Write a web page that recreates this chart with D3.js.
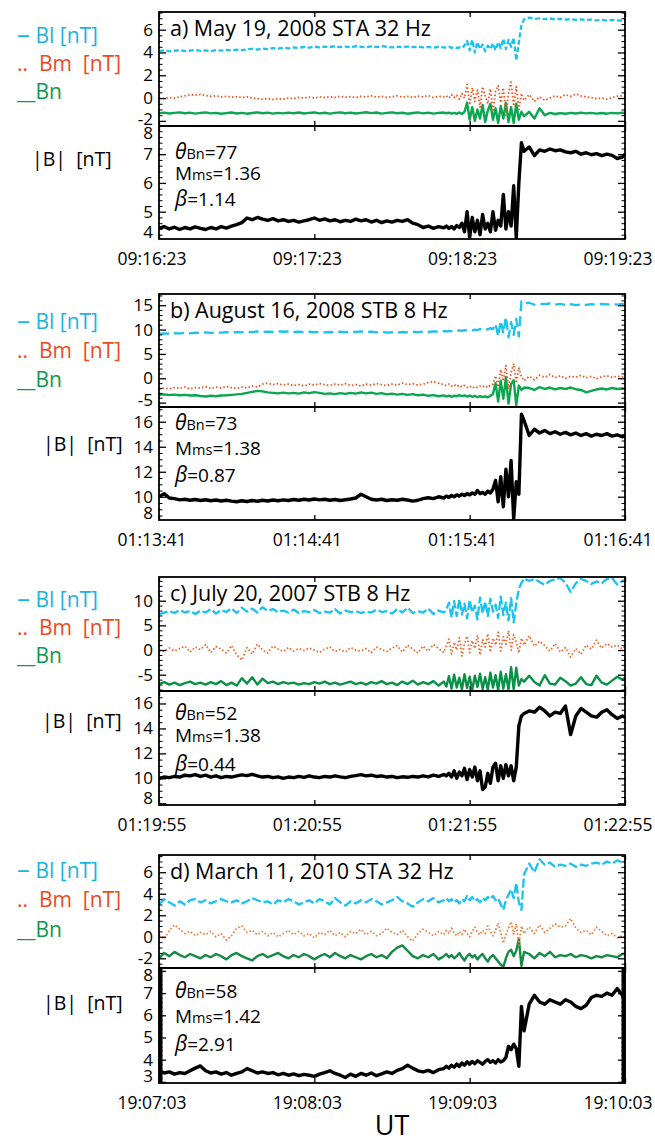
<!DOCTYPE html>
<html>
<head>
<meta charset="utf-8">
<script src="https://d3js.org/d3.v7.min.js"></script>
<style>
  body { margin: 0; background: #fff; }
  text { font-family: "Open Sans", sans-serif; }
</style>
</head>
<body>
<div id="chart"></div>
<script>

// seconds after the first time tick (same sampling for all four events)
var times = [0,2,4,6,8,10,12,14,16,18,20,22,24,26,28,30,32,34,36,38,40,42,44,46,48,50,52,54,56,58,
  60,62,64,66,68,70,72,74,76,78,80,82,84,86,88,90,92,94,96,98,100,102,104,106,108,110,
  111,112,113,114,115,116,117,118,119,120,121,122,123,124,125,126,127,128,129,130,
  131,132,133,134,135,136,137,138,139,140,141,
  143,145,147,149,151,153,155,157,159,161,163,165,167,169,171,173,175,177,179,180];

// a) May 19, 2008
var blA = [4.12,4.18,4.10,4.15,4.20,4.12,4.16,4.22,4.14,4.18,4.12,4.20,4.16,4.22,4.18,4.25,4.20,4.28,4.32,4.26,
  4.35,4.30,4.38,4.34,4.42,4.36,4.44,4.40,4.48,4.42,4.50,4.45,4.52,4.48,4.55,4.47,4.52,4.45,4.55,4.50,
  4.46,4.53,4.48,4.55,4.50,4.44,4.50,4.46,4.52,4.47,4.50,4.44,4.48,4.42,4.50,4.45,
  4.42,4.50,4.40,4.48,4.38,4.45,4.40,4.60,5.00,4.20,5.10,4.00,4.90,4.30,4.70,4.10,4.60,4.30,4.80,4.20,
  4.90,4.40,5.20,4.30,5.10,4.50,5.30,3.30,4.90,6.40,6.90,
  7.05,6.95,7.00,6.92,6.98,6.90,6.95,6.88,6.92,6.85,6.90,6.85,6.88,6.82,6.86,6.80,6.85,6.82,6.78,6.80];
var bmA = [0.00,-0.05,0.05,0.00,0.10,0.20,0.30,0.25,0.32,0.22,0.15,0.20,0.10,0.15,0.08,0.12,0.05,0.10,0.00,-0.05,
  -0.10,-0.05,-0.12,-0.06,-0.10,0.00,-0.05,0.05,0.00,0.08,0.02,0.10,0.05,0.12,0.06,0.15,0.08,0.12,0.05,0.15,
  0.10,0.20,0.08,0.15,0.05,0.12,0.20,0.08,0.15,0.05,0.18,0.10,0.22,0.05,0.15,0.10,
  0.20,0.00,0.30,0.05,0.25,-0.10,0.40,0.00,1.20,-0.60,0.90,-0.30,0.70,-0.80,1.00,0.20,-0.50,0.80,-1.20,0.60,
  1.10,-0.40,0.90,-1.50,0.50,1.40,-0.70,1.00,-1.00,0.40,-0.20,
  0.30,-0.30,0.10,-0.20,0.00,0.20,0.05,0.30,0.15,0.35,0.20,0.10,0.05,-0.05,0.00,-0.10,0.05,0.15,0.20,0.12];
var bnA = [-1.32,-1.28,-1.35,-1.30,-1.25,-1.33,-1.28,-1.36,-1.30,-1.26,-1.34,-1.30,-1.38,-1.32,-1.27,-1.35,-1.30,-1.37,-1.31,-1.25,
  -1.33,-1.28,-1.36,-1.30,-1.34,-1.28,-1.33,-1.27,-1.35,-1.30,-1.26,-1.34,-1.29,-1.36,-1.30,-1.25,-1.33,-1.28,-1.35,-1.30,
  -1.24,-1.32,-1.27,-1.36,-1.30,-1.25,-1.33,-1.29,-1.37,-1.31,-1.26,-1.34,-1.28,-1.36,-1.30,-1.27,
  -1.33,-1.28,-1.36,-1.30,-1.38,-1.26,-1.40,-1.20,-0.40,-1.90,-0.80,-2.00,-1.00,-1.80,-0.60,-2.10,-1.10,-0.50,-1.90,-0.90,
  -2.20,-0.70,-1.80,-0.40,-2.10,-0.80,-2.20,-0.50,-1.90,-1.20,-1.60,
  -1.20,-1.80,-0.90,-1.50,-1.30,-1.40,-1.32,-1.38,-1.30,-1.35,-1.28,-1.34,-1.30,-1.36,-1.31,-1.37,-1.30,-1.34,-1.28,-1.30];
var babsA = [4.42,4.48,4.40,4.46,4.38,4.45,4.40,4.47,4.42,4.38,4.45,4.40,4.48,4.43,4.50,4.55,4.62,4.78,4.72,4.80,
  4.74,4.70,4.76,4.68,4.72,4.66,4.70,4.64,4.68,4.72,4.78,4.70,4.75,4.68,4.72,4.65,4.70,4.66,4.74,4.68,
  4.72,4.64,4.70,4.62,4.68,4.64,4.70,4.66,4.72,4.60,4.55,4.45,4.50,4.42,4.48,4.44,
  4.50,4.42,4.48,4.40,4.52,4.45,4.60,4.30,5.00,4.10,4.80,4.30,4.70,4.20,4.90,4.40,4.60,4.30,5.00,4.35,
  4.70,4.50,5.60,4.40,5.00,4.50,5.90,4.10,6.00,7.40,7.10,
  7.25,6.95,7.15,7.10,7.18,7.12,7.15,7.08,7.05,7.10,7.00,7.05,6.98,7.02,6.95,7.00,6.96,6.85,6.90,7.00];

// b) August 16, 2008
var blB = [9.10,9.20,9.15,9.25,9.20,9.30,9.22,9.35,9.28,9.40,9.30,9.42,9.35,9.45,9.38,9.50,9.42,9.55,9.48,9.60,
  9.50,9.58,9.52,9.62,9.55,9.60,9.50,9.58,9.48,9.55,9.45,9.52,9.40,9.50,9.42,9.55,9.45,9.60,9.50,9.62,
  9.48,9.55,9.40,9.50,9.38,9.45,9.35,9.50,9.42,9.55,9.45,9.60,9.50,9.62,9.55,9.70,
  9.60,9.75,9.65,9.80,9.70,9.85,9.75,9.90,9.80,9.95,9.85,10.0,9.90,10.1,9.95,10.2,10.0,10.3,10.1,11.2,
  8.60,11.8,9.20,12.6,8.40,11.5,8.90,12.2,8.60,15.8,15.4,
  15.5,15.1,15.3,15.2,15.35,15.1,15.25,15.05,15.2,15.0,15.15,15.05,15.2,15.1,15.25,15.15,15.2,15.1,15.25,15.2];
var bmB = [-2.3,-2.0,-2.2,-1.9,-2.1,-1.8,-2.2,-1.9,-2.0,-1.7,-2.1,-1.8,-2.0,-1.7,-1.9,-2.1,-1.8,-2.0,-1.6,-1.8,
  -1.2,-1.0,-1.3,-1.1,-1.4,-1.2,-1.5,-1.3,-1.6,-1.2,-1.4,-1.1,-1.3,-1.5,-1.2,-1.4,-1.1,-1.5,-1.3,-1.6,
  -1.2,-1.4,-1.1,-1.3,-1.5,-1.2,-1.4,-1.0,-1.3,-1.1,-1.4,-1.2,-0.9,-0.7,-1.0,-1.3,
  -1.5,-1.2,-1.6,-1.3,-1.7,-1.4,-1.8,-1.5,-1.9,-1.6,-2.0,-1.7,-1.9,-1.6,-1.8,-1.5,-1.9,-1.4,-1.2,0.5,
  -1.8,1.8,-0.6,2.6,-2.2,1.2,3.0,-1.0,2.2,0.3,-0.5,
  0.4,-0.3,0.6,0.2,0.8,0.1,0.5,0.0,0.4,0.2,0.6,0.1,0.4,-0.1,0.3,0.5,0.2,0.4,0.3,0.3];
var bnB = [-3.40,-3.30,-3.45,-3.35,-3.50,-3.40,-3.55,-3.50,-3.65,-3.75,-3.60,-3.70,-3.55,-3.50,-3.40,-3.30,-3.20,-3.00,-2.80,-2.60,
  -2.70,-2.90,-3.00,-3.10,-2.95,-3.10,-3.00,-3.15,-2.90,-3.05,-2.85,-3.00,-3.20,-3.10,-3.25,-3.05,-3.20,-3.00,-3.15,-2.90,
  -3.10,-2.95,-3.20,-3.05,-3.30,-3.15,-3.35,-3.20,-3.40,-3.25,-3.50,-3.35,-3.60,-3.45,-3.70,-3.50,
  -3.75,-3.55,-3.80,-3.60,-3.70,-3.45,-3.65,-3.50,-3.75,-3.55,-3.80,-3.60,-3.90,-3.65,-3.85,-3.70,-3.90,-3.60,-3.20,-1.00,
  -4.80,-0.50,-4.20,0.20,-5.20,-1.20,-0.40,-5.50,-1.50,-2.40,-1.90,
  -2.0,-2.4,-1.8,-2.2,-1.9,-2.3,-2.0,-2.2,-1.9,-2.25,-2.4,-2.9,-2.6,-2.3,-2.1,-2.3,-2.0,-2.2,-2.1,-2.2];
var babsB = [10.0,10.25,9.90,9.85,9.75,9.80,9.72,9.78,9.70,9.76,9.68,9.74,9.66,9.72,9.65,9.60,9.68,9.62,9.70,9.64,
  9.72,9.66,9.74,9.68,9.75,9.70,9.78,9.72,9.80,9.74,9.82,9.75,9.80,9.72,9.78,9.70,9.76,9.82,9.90,10.2,
  10.0,9.80,9.74,9.80,9.70,9.76,9.72,9.80,9.74,9.65,9.72,9.85,9.92,9.85,10.0,9.90,
  10.05,9.95,10.1,10.0,10.15,10.05,10.2,10.1,10.25,10.15,10.3,10.2,10.5,10.25,10.35,10.2,10.45,10.3,10.6,11.3,
  9.60,11.6,9.20,12.2,10.0,12.9,8.20,11.2,10.2,16.6,16.1,
  14.9,15.4,15.1,15.3,15.05,15.2,15.0,15.15,14.95,15.1,14.9,15.05,14.85,15.0,14.9,15.05,14.85,14.95,14.8,14.9];

// c) July 20, 2007
var blC = [7.2,7.6,7.9,7.5,8.1,7.6,7.9,7.3,8.0,7.6,8.3,7.4,8.1,7.7,8.5,7.5,8.6,7.8,8.4,7.6,
  8.7,7.9,8.3,7.7,8.0,7.6,8.2,7.5,7.9,7.7,8.1,7.5,7.8,7.6,8.3,7.4,8.0,7.7,7.9,7.5,
  7.8,7.6,8.2,7.7,7.9,7.4,8.3,7.6,8.6,7.5,7.9,7.6,8.4,7.3,8.0,7.6,
  8.2,9.6,6.6,9.9,6.9,10.3,7.2,9.4,6.4,10.1,7.6,9.0,6.2,10.6,7.4,9.8,6.9,10.4,7.8,9.2,
  6.5,10.8,7.1,9.6,6.0,10.5,5.6,9.5,12.4,13.6,14.5,
  14.0,14.4,13.8,13.2,14.0,14.3,14.6,13.6,11.8,13.5,14.4,14.0,13.4,13.9,13.5,14.4,14.6,13.3,14.0,14.2];
var bmC = [0.0,-0.3,0.4,-0.2,0.3,0.8,-0.4,0.6,0.1,1.1,-0.5,0.7,0.2,-0.6,0.9,-1.0,-2.0,0.5,-0.8,1.2,
  0.0,-0.6,0.8,0.2,-0.3,0.5,-0.2,0.3,-0.1,0.4,0.0,-0.5,0.2,0.6,-0.3,0.1,-0.4,0.5,0.0,-0.2,
  0.3,-0.5,0.6,0.1,-0.3,0.4,0.9,-0.4,1.0,0.2,-0.6,0.8,-0.2,1.1,0.3,-0.5,
  0.9,2.2,-0.8,1.6,0.0,2.5,-1.2,1.2,2.8,-0.5,1.9,0.3,3.0,-1.0,2.1,0.6,3.3,-0.4,2.4,1.0,
  3.6,-0.2,2.7,1.2,3.9,0.0,3.1,1.5,-0.6,2.4,1.0,
  2.9,0.8,1.8,0.9,-0.2,1.3,-0.4,0.5,-1.4,0.3,-0.8,1.0,0.2,2.0,0.4,1.3,0.6,1.0,0.2,0.8];
var bnC = [-6.9,-6.5,-7.0,-6.6,-7.1,-6.7,-6.4,-6.9,-6.6,-7.0,-6.5,-6.9,-6.3,-7.1,-6.6,-7.2,-5.7,-6.8,-5.5,-7.0,
  -5.8,-6.7,-6.4,-6.9,-6.5,-6.8,-6.6,-7.0,-6.7,-6.9,-6.5,-6.8,-6.4,-6.9,-6.6,-7.0,-6.7,-6.4,-6.9,-6.6,
  -7.0,-6.5,-6.8,-6.3,-6.9,-6.6,-7.1,-6.4,-6.9,-6.2,-7.0,-6.5,-6.9,-6.3,-7.2,-6.4,
  -7.4,-5.3,-7.8,-5.0,-7.6,-5.6,-8.0,-4.9,-7.7,-5.4,-8.1,-5.2,-7.5,-4.8,-7.9,-5.5,-8.0,-4.6,-7.6,-5.1,
  -8.1,-4.4,-7.8,-4.9,-8.0,-3.5,-7.9,-3.6,-7.2,-5.9,-6.4,
  -5.2,-6.5,-7.2,-5.1,-6.8,-7.0,-5.6,-6.3,-7.2,-6.8,-5.5,-6.9,-7.1,-5.2,-6.6,-7.0,-6.2,-5.4,-6.0,-5.6];
var babsC = [10.0,10.1,10.05,10.15,10.1,10.25,10.2,10.3,10.15,10.25,10.1,10.2,10.05,10.15,10.1,10.2,10.28,10.22,10.32,10.2,
  10.1,10.15,10.05,10.12,10.0,10.1,10.05,10.15,10.08,10.2,10.1,10.05,10.15,10.1,10.2,10.12,10.05,10.15,10.22,10.3,
  10.2,10.25,10.15,10.2,10.1,10.15,10.05,10.12,10.08,10.15,10.1,10.2,10.12,10.25,10.15,10.3,
  10.2,10.4,10.1,10.6,10.0,10.5,10.2,10.8,9.9,10.7,10.1,10.9,9.8,10.6,9.1,9.3,10.4,9.6,10.9,11.2,
  9.8,11.0,10.0,11.1,10.2,11.0,9.8,10.9,14.2,15.0,15.2,
  15.4,15.3,15.7,15.4,15.0,15.3,15.2,15.8,13.5,15.0,15.6,15.3,15.0,14.9,15.3,15.5,15.1,14.8,15.0,14.9];

// d) March 11, 2010
var blD = [3.0,3.5,3.2,2.9,3.3,3.0,3.4,3.5,3.2,3.4,3.1,3.3,3.5,3.3,3.2,3.4,3.1,3.3,3.6,3.4,
  3.2,3.3,3.0,3.4,3.2,3.5,3.3,3.0,3.2,3.4,3.1,3.5,3.3,3.0,3.6,3.2,2.9,3.3,3.1,3.4,
  3.2,3.5,3.3,3.0,3.2,3.4,3.7,3.3,3.1,2.8,3.2,3.5,3.3,3.6,3.2,3.4,
  3.6,3.3,3.5,3.2,3.4,3.1,3.5,3.3,3.8,3.4,3.7,3.3,3.5,3.2,3.6,3.4,3.7,3.5,3.8,3.4,
  3.6,3.0,2.5,3.4,3.9,4.4,3.6,5.0,3.2,2.5,5.8,
  6.8,6.0,7.2,6.7,6.9,6.5,6.7,6.6,6.8,6.5,6.7,6.6,6.8,6.9,6.7,7.0,6.8,7.1,6.9,7.0];
var bmD = [0.2,-0.2,0.6,1.1,0.7,0.3,0.5,0.1,0.4,0.2,0.5,0.0,0.3,-0.3,0.1,0.8,1.0,0.4,0.6,0.2,
  0.5,0.1,0.4,0.0,0.3,0.6,0.2,0.5,0.1,0.3,-0.1,0.4,0.2,0.6,0.1,0.4,0.0,0.5,0.3,0.7,
  0.2,0.5,0.1,0.3,0.8,0.4,0.2,0.6,0.0,-0.4,0.3,0.7,0.4,0.1,0.5,0.2,
  0.6,0.3,0.8,0.4,0.1,0.5,0.2,0.7,0.3,0.0,0.5,0.9,0.4,0.2,0.6,0.3,1.0,0.5,0.1,0.6,
  1.3,0.4,-0.6,0.2,0.8,1.4,0.2,1.2,-0.8,1.0,0.3,
  0.9,0.3,1.1,0.4,0.8,1.2,0.9,1.0,1.7,0.8,0.4,0.6,0.2,0.9,0.5,0.1,0.3,-0.1,0.1,0.0];
var bnD = [-2.0,-1.5,-1.8,-1.4,-1.7,-1.9,-1.6,-1.8,-2.0,-1.7,-1.9,-1.6,-1.8,-2.1,-1.7,-1.5,-1.8,-2.0,-2.2,-1.8,
  -1.6,-1.9,-1.7,-1.5,-1.8,-2.0,-1.7,-1.9,-1.6,-1.8,-2.1,-1.8,-1.6,-1.9,-1.5,-1.8,-2.0,-1.7,-1.9,-2.1,
  -1.8,-1.6,-1.9,-1.7,-2.0,-1.4,-1.0,-0.8,-1.3,-1.8,-2.0,-1.7,-1.9,-1.6,-2.1,-1.8,
  -1.6,-1.9,-1.7,-2.0,-1.8,-1.5,-1.9,-2.2,-1.8,-1.6,-1.9,-1.7,-2.1,-1.8,-1.6,-2.0,-2.3,-1.9,-1.7,-2.0,
  -2.3,-2.6,-2.8,-2.0,-1.4,-1.2,-1.8,-1.3,-0.2,-2.7,-1.4,
  -1.6,-2.0,-1.5,-1.8,-1.4,-1.9,-1.7,-1.8,-1.6,-1.9,-1.7,-1.8,-2.0,-1.8,-1.9,-1.7,-1.8,-1.9,-1.6,-1.6];
var babsD = [3.50,3.40,3.45,3.35,3.42,3.38,3.50,3.62,3.72,3.50,3.40,3.45,3.35,3.42,3.30,3.38,3.45,3.60,3.50,3.40,
  3.45,3.38,3.42,3.32,3.38,3.30,3.36,3.28,3.34,3.30,3.25,3.35,3.42,3.50,3.38,3.30,3.20,3.35,3.25,3.38,
  3.30,3.40,3.28,3.36,3.45,3.38,3.52,3.60,3.75,3.62,3.50,3.45,3.52,3.42,3.55,3.60,
  3.70,3.62,3.75,3.66,3.80,3.70,3.85,3.75,3.90,3.80,3.92,3.82,3.95,3.88,3.80,3.92,4.00,3.88,3.95,3.85,
  4.00,3.90,3.95,4.10,4.60,4.45,4.70,4.50,3.70,6.40,5.30,
  6.5,6.9,6.6,6.5,6.7,6.6,6.5,6.7,6.6,6.4,6.3,6.45,6.8,6.9,6.85,7.0,6.9,7.2,6.9,6.6];

var titles = ["a) May 19, 2008 STA 32 Hz", "b) August 16, 2008 STB 8 Hz",
              "c) July 20, 2007 STB 8 Hz", "d) March 11, 2010 STA 32 Hz"];
var timeTicks = [0, 60, 120, 180];
var timeLabels = [["09:16:23","09:17:23","09:18:23","09:19:23"],
                  ["01:13:41","01:14:41","01:15:41","01:16:41"],
                  ["01:19:55","01:20:55","01:21:55","01:22:55"],
                  ["19:07:03","19:08:03","19:09:03","19:10:03"]];
var thetaBn = ["77", "73", "52", "58"];
var machMs = ["1.36", "1.38", "1.38", "1.42"];
var betaVals = ["1.14", "0.87", "0.44", "2.91"];
var topTicks = [[-2,0,2,4,6], [-5,0,5,10,15], [-5,0,5,10], [-2,0,2,4,6]];
var botTicks = [[4,5,6,7,8], [8,10,12,14,16], [8,10,12,14,16], [3,4,5,6,7,8]];

var series = [[blA,bmA,bnA,babsA], [blB,bmB,bnB,babsB], [blC,bmC,bnC,babsC], [blD,bmD,bnD,babsD]];

// layout of the four events (pixel positions and axis ranges)
var layout = [
  {top:12,  mid:126, bot:239,  tDom:[-2.45,7.55], bDom:[4.05,7.98], tMin:0.5, bMin:0.2, leg:[43,71,99,166],    bx:32, ann:[159,180,206], dash:"5,2.5"},
  {top:294, mid:407, bot:520,  tDom:[-5.9,17.3],  bDom:[8.14,17.18], tMin:1,  bMin:0.5, leg:[329,358,387,451], bx:43, ann:[430,455,482], dash:"10,5"},
  {top:577, mid:691, bot:805,  tDom:[-8.3,14.8],  bDom:[7.86,17.0], tMin:1,   bMin:0.5, leg:[607,635,663,728], bx:42, ann:[720,742,771], dash:"9,3"},
  {top:855, mid:968, bot:1083, tDom:[-2.9,7.6],   bDom:[2.95,8.13], tMin:0.5, bMin:0.2, leg:[878,907,937,1010], bx:43, ann:[998,1023,1051], dash:"9,3"}
];
var lineColors = [
  ["#19c2ef", "#f4541f", "#0aa650"],
  ["#19c2ef", "#f4541f", "#0aa650"],
  ["#19c2ef", "#f2662a", "#0a9148"],
  ["#19c2ef", "#f27a35", "#148a45"]
];

var W = 655, H = 1142;
var X0 = 159, X1 = 625;

var svg = d3.select("#chart").append("svg")
    .attr("width", W)
    .attr("height", H);

var x = d3.scaleLinear().domain([0, 180]).range([X0, X1]);

function trace(g, vals, y, clip, color, w, dash) {
  g.append("path")
    .datum(vals)
    .attr("clip-path", "url(#" + clip + ")")
    .attr("fill", "none")
    .attr("stroke", color)
    .attr("stroke-width", w)
    .attr("stroke-dasharray", dash)
    .attr("stroke-linejoin", "round")
    .attr("d", d3.line()
      .x(function(d, k) { return x(times[k]); })
      .y(function(d) { return y(d); }));
}

function yAxes(g, y, ticks, minorStep, top, bottom) {
  var dom = y.domain();
  var minor = d3.range(Math.ceil(dom[0] / minorStep) * minorStep, dom[1], minorStep)
    .filter(function(v) { return ticks.every(function(t) { return Math.abs(t - v) > 1e-6; }); });

  var left = g.append("g")
    .attr("transform", "translate(" + X0 + ",0)")
    .call(d3.axisLeft(y).tickValues(ticks).tickSize(-7).tickPadding(6)
      .tickFormat(function(d) { return String(d); }));
  left.select(".domain").remove();
  left.selectAll(".tick text")
    .attr("font-size", 17)
    .attr("font-family", "Open Sans")
    .attr("fill", "#000")
    .attr("y", function(d) {
      var p = y(d);
      if (p < top + 7) return top + 7 - p;
      if (p > bottom - 7) return bottom - 7 - p;
      return 0;
    });
  left.selectAll(".tick line").attr("stroke-width", 1.3)
    .style("display", function(d) { var p = y(d); return (p < top || p > bottom) ? "none" : null; });

  var leftMinor = g.append("g")
    .attr("transform", "translate(" + X0 + ",0)")
    .call(d3.axisLeft(y).tickValues(minor).tickSize(-3.5).tickFormat(""));
  leftMinor.select(".domain").remove();

  var right = g.append("g")
    .attr("transform", "translate(" + X1 + ",0)")
    .call(d3.axisRight(y).tickValues(ticks.filter(function(d) { var p = y(d); return p >= top && p <= bottom; }))
      .tickSize(-7).tickFormat(""));
  right.select(".domain").remove();
  right.selectAll(".tick line").attr("stroke-width", 1.3);

  var rightMinor = g.append("g")
    .attr("transform", "translate(" + X1 + ",0)")
    .call(d3.axisRight(y).tickValues(minor).tickSize(-3.5).tickFormat(""));
  rightMinor.select(".domain").remove();
}

function xTicks(g, yPos, up) {
  var ax = up ? d3.axisBottom(x) : d3.axisTop(x);
  var a = g.append("g")
    .attr("transform", "translate(0," + yPos + ")")
    .call(ax.tickValues(timeTicks).tickSize(-5).tickFormat(""));
  a.select(".domain").remove();
  a.selectAll(".tick line").attr("stroke-width", 1.3);
}

layout.forEach(function(L, i) {
  var g = svg.append("g");
  var yT = d3.scaleLinear().domain(L.tDom).range([L.mid, L.top]);
  var yB = d3.scaleLinear().domain(L.bDom).range([L.bot, L.mid]);

  var defs = g.append("defs");
  defs.append("clipPath").attr("id", "clipT" + i)
    .append("rect").attr("x", X0).attr("y", L.top).attr("width", X1 - X0).attr("height", L.mid - L.top);
  defs.append("clipPath").attr("id", "clipB" + i)
    .append("rect").attr("x", X0).attr("y", L.mid).attr("width", X1 - X0).attr("height", L.bot - L.mid);

  var s = series[i], c = lineColors[i];
  trace(g, s[0], yT, "clipT" + i, c[0], 2.3, L.dash);
  trace(g, s[2], yT, "clipT" + i, c[2], 2.4, null);
  trace(g, s[1], yT, "clipT" + i, c[1], 1.8, "1.5,2.2");
  trace(g, s[3], yB, "clipB" + i, "#000", 3.4, null);

  // frames
  g.append("rect").attr("x", X0).attr("y", L.top).attr("width", X1 - X0).attr("height", L.bot - L.top)
    .attr("fill", "none").attr("stroke", "#000").attr("stroke-width", 1.8);
  g.append("line").attr("x1", X0).attr("x2", X1).attr("y1", L.mid).attr("y2", L.mid)
    .attr("stroke", "#000").attr("stroke-width", 1.8);
  if (i === 3) {
    g.selectAll("line.edge").data([X0 + 1.5, X1 - 1.5]).enter().append("line")
      .attr("class", "edge")
      .attr("x1", function(d) { return d; }).attr("x2", function(d) { return d; })
      .attr("y1", L.mid).attr("y2", L.bot)
      .attr("stroke", "#000").attr("stroke-width", 4);
  }

  yAxes(g, yT, topTicks[i], L.tMin, L.top, L.mid);
  yAxes(g, yB, botTicks[i], L.bMin, L.mid, L.bot);
  xTicks(g, L.top, false);
  xTicks(g, L.mid, true);
  xTicks(g, L.mid, false);
  xTicks(g, L.bot, true);

  // time labels
  g.selectAll("text.tl").data(timeTicks).enter().append("text")
    .attr("class", "tl")
    .attr("x", function(d) { return x(d) - 7; })
    .attr("y", L.bot + 26)
    .attr("text-anchor", "middle")
    .attr("font-size", 17.5)
    .text(function(d, k) { return timeLabels[i][k]; });

  // title
  g.append("text").attr("x", 170).attr("y", L.top + 24)
    .attr("font-size", 21.5).text(titles[i]);

  // legend
  var l1 = g.append("text").attr("x", 17).attr("y", L.leg[0]).attr("font-size", 21)
    .attr("fill", "#17b4e6").style("white-space", "pre");
  l1.append("tspan").attr("font-size", 26).text("–");
  l1.append("tspan").text(" Bl [nT]");
  g.append("text").attr("x", 17).attr("y", L.leg[1]).attr("font-size", 21)
    .attr("fill", "#ee4a22").style("white-space", "pre").text("..  Bm  [nT]");
  g.append("text").attr("x", 17).attr("y", L.leg[2]).attr("font-size", 21)
    .attr("fill", "#0c9a4c").style("white-space", "pre").text("__Bn");
  g.append("text").attr("x", L.bx).attr("y", L.leg[3]).attr("font-size", 19.5)
    .attr("fill", "#000").style("white-space", "pre").text("|B|  [nT]");

  // shock parameters
  var t1 = g.append("text").attr("x", 175).attr("y", L.ann[0]).attr("font-size", 19);
  t1.append("tspan").attr("font-style", "italic").attr("font-size", 21).text("θ");
  t1.append("tspan").attr("font-size", 14.5).text("Bn");
  t1.append("tspan").text("=" + thetaBn[i]);
  var t2 = g.append("text").attr("x", 175).attr("y", L.ann[1]).attr("font-size", 19);
  t2.append("tspan").text("M");
  t2.append("tspan").attr("font-size", 14.5).text("ms");
  t2.append("tspan").text("=" + machMs[i]);
  var t3 = g.append("text").attr("x", 175).attr("y", L.ann[2]).attr("font-size", 19);
  t3.append("tspan").attr("font-style", "italic").attr("font-size", 21).text("β");
  t3.append("tspan").text("=" + betaVals[i]);
});

svg.append("text")
  .attr("x", 392).attr("y", 1135)
  .attr("text-anchor", "middle")
  .attr("font-size", 27)
  .text("UT");

</script>
</body>
</html>
